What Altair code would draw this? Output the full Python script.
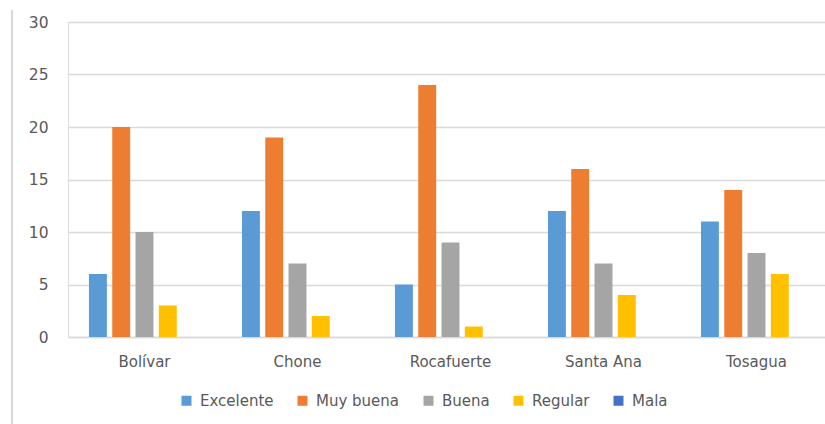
import altair as alt
import pandas as pd

municipios = ["Bolívar", "Chone", "Rocafuerte", "Santa Ana", "Tosagua"]
series = ["Excelente", "Muy buena", "Buena", "Regular", "Mala"]
colors = ["#5B9BD5", "#ED7D31", "#A5A5A5", "#FFC000", "#4472C4"]

excelente = [6, 12, 5, 12, 11]
muy_buena = [20, 19, 24, 16, 14]
buena = [10, 7, 9, 7, 8]
regular = [3, 2, 1, 4, 6]
mala = [0, 0, 0, 0, 0]

values = [excelente, muy_buena, buena, regular, mala]
rows = []
for s, vals in zip(series, values):
    for m, v in zip(municipios, vals):
        rows.append({"Municipio": m, "Serie": s, "Valor": v})
df = pd.DataFrame(rows)

FONT = "DejaVu Sans"
TXT = "#595959"
GRID = "#d9d9d9"

bars = alt.Chart(df).mark_bar().encode(
    x=alt.X("Municipio:N", sort=municipios, title=None,
            scale=alt.Scale(range=[0, 765], paddingInner=0, paddingOuter=0),
            axis=alt.Axis(labelAngle=0, ticks=False, domainColor=GRID, domainWidth=1.5,
                          labelFont=FONT, labelFontSize=15, labelColor=TXT, labelPadding=17)),
    xOffset=alt.XOffset("Serie:N", sort=series,
                        scale=alt.Scale(paddingInner=0.23, paddingOuter=0.9)),
    y=alt.Y("Valor:Q", title=None,
            scale=alt.Scale(domain=[0, 30], nice=False),
            axis=alt.Axis(values=[0, 5, 10, 15, 20, 25, 30], ticks=False, domain=False,
                          gridColor=GRID, gridWidth=1.5, labelFont=FONT, labelFontSize=15.5,
                          labelColor=TXT, labelPadding=20)),
    color=alt.Color("Serie:N", sort=series, title=None,
                    scale=alt.Scale(domain=series, range=colors),
                    legend=alt.Legend(orient="none", direction="horizontal",
                                      legendX=111, legendY=371, symbolType="square",
                                      symbolSize=100, symbolStrokeWidth=0,
                                      labelFont=FONT, labelFontSize=15, labelColor=TXT,
                                      labelOffset=6, columnPadding=21, padding=0)),
)

border = alt.Chart(pd.DataFrame({"k": [0]})).mark_rule(color=GRID, strokeWidth=2).encode(
    x=alt.value(-56), y=alt.value(-12), y2=alt.value(410)
)

chart = alt.layer(border, bars).properties(
    width=757, height=315,
    autosize=alt.AutoSizeParams(type="none"),
    padding={"left": 68, "top": 22, "right": 0, "bottom": 87},
).configure_view(stroke=None).configure(background="white")

chart.save("out.html", embed_options={"renderer": "svg", "actions": False})
